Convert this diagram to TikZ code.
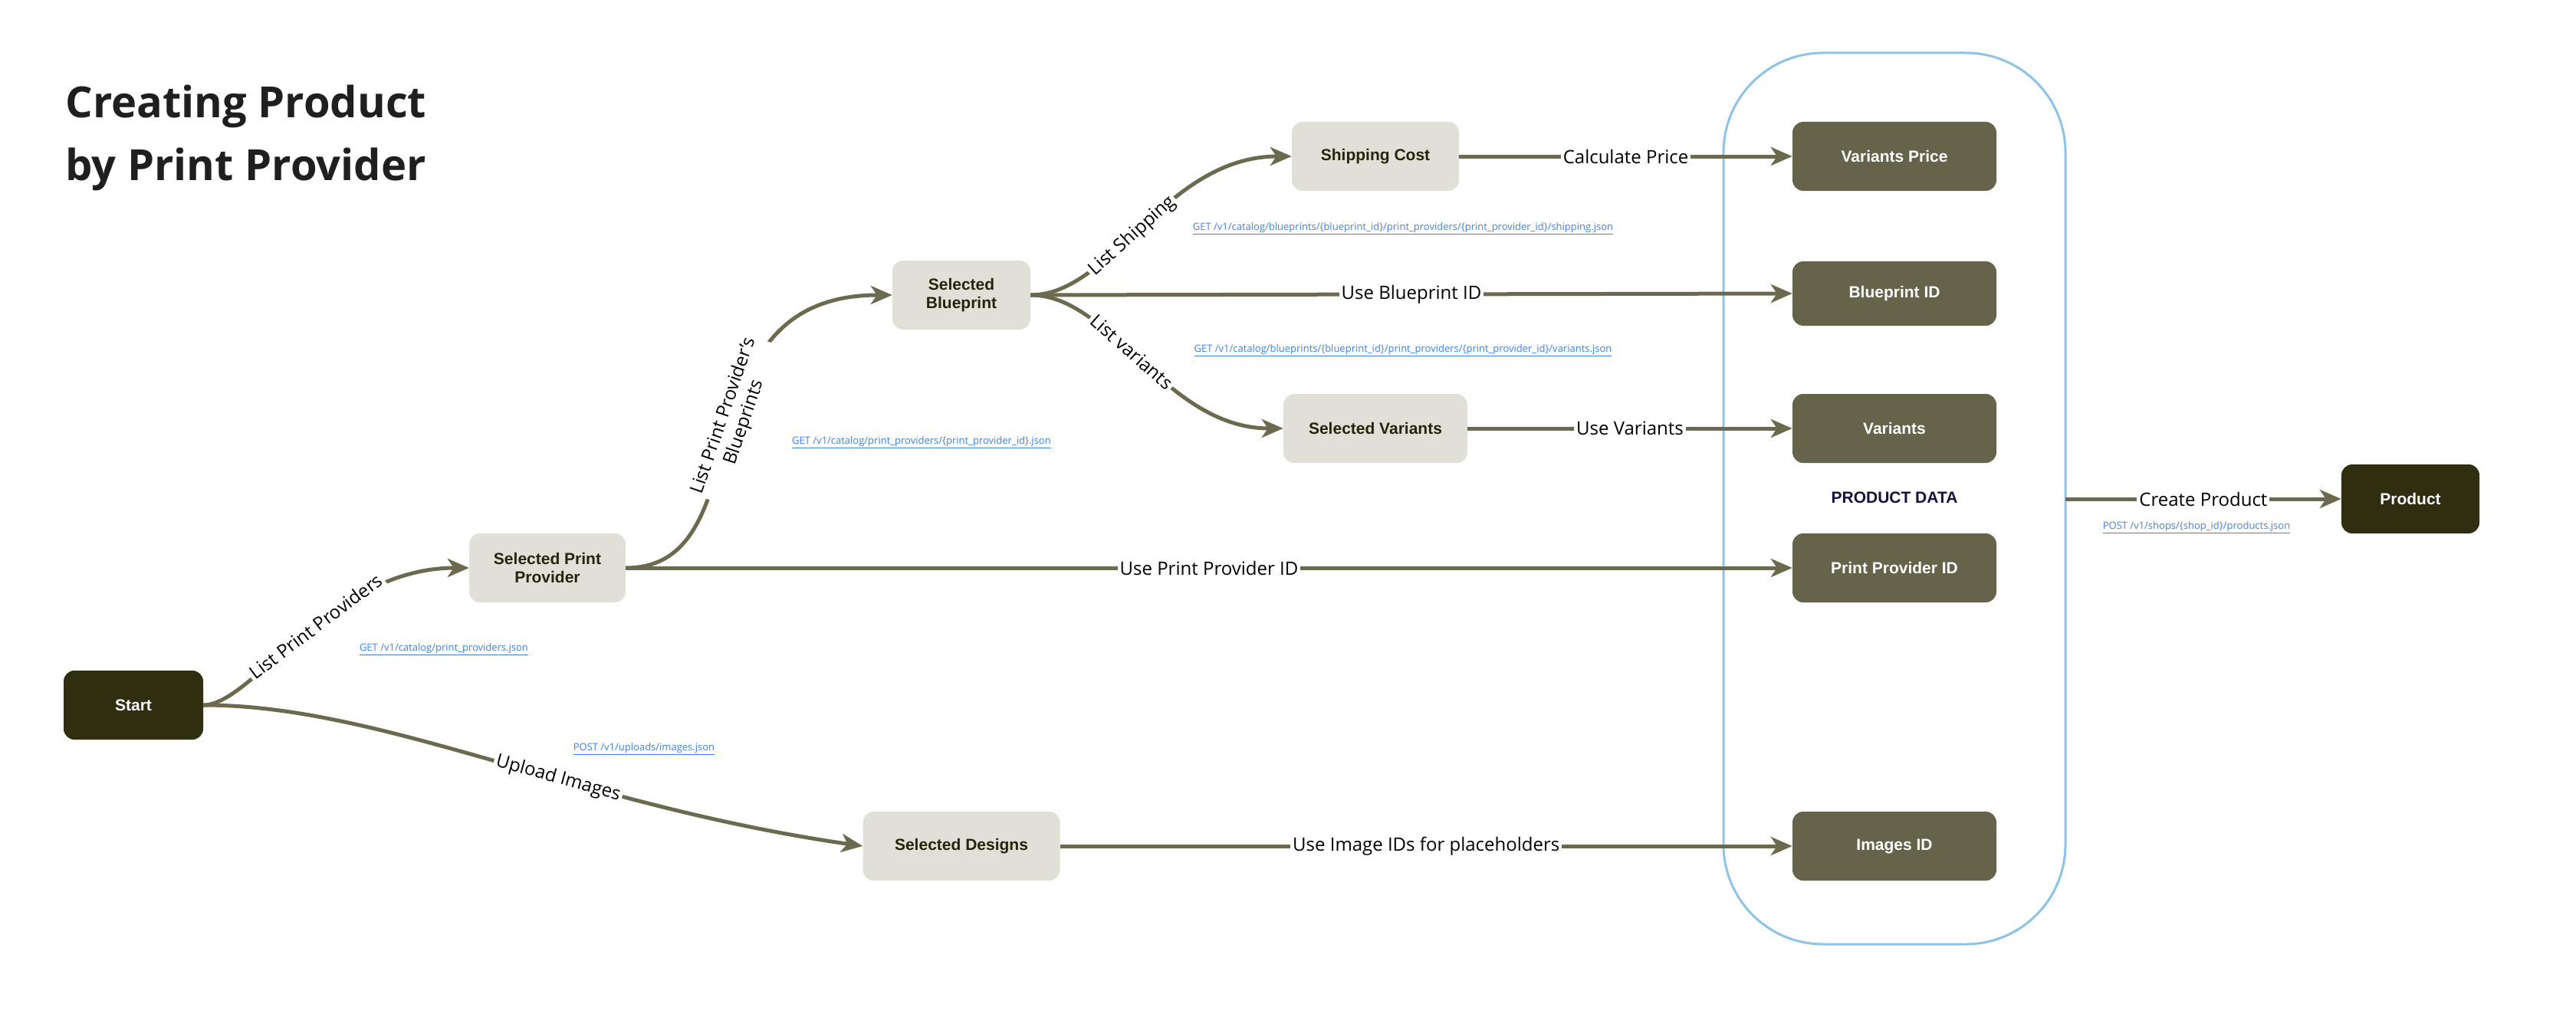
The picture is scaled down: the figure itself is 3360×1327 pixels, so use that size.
\documentclass[tikz,border=0pt]{standalone}
\usepackage{fontspec}
\setmainfont{Open Sans}
\newfontfamily\nodefont{Liberation Sans}
\usetikzlibrary{arrows.meta}
\definecolor{dk}{HTML}{2F2E10}
\definecolor{ol}{HTML}{65634A}
\definecolor{lt}{HTML}{E0E0D8}
\definecolor{ed}{HTML}{6B6A4E}
\definecolor{fr}{HTML}{8EC3E8}
\definecolor{lk}{HTML}{3D7FF0}
\definecolor{pd}{HTML}{14123A}
\begin{document}
\begin{tikzpicture}[x=1pt,y=-1pt,
  box/.style={rounded corners=14pt,minimum height=90pt,align=center,font=\nodefont\fontsize{21}{24}\selectfont\bfseries,inner sep=0pt},
  lbox/.style={box,fill=lt,text=dk!80!black},
  obox/.style={box,fill=ol,text=white,minimum width=266pt},
  dbox/.style={box,fill=dk,text=white},
  arr/.style={draw=ed,line width=5pt,-{Stealth[length=28pt,width=24pt,inset=8pt]}},
  lab/.style={fill=white,inner sep=3pt,font=\fontsize{24}{28}\selectfont,text=black},
  link/.style={font=\fontsize{13}{15}\selectfont,text=lk}]
\useasboundingbox (0,0) rectangle (3360,1327);
\node[anchor=west,align=left,font=\fontsize{56}{82}\selectfont\bfseries,text=black!88] (title) at (82,180) {Creating Product\\by Print Provider};
\node[dbox,minimum width=182pt] (start) at (174,920) {Start};
\node[lbox,minimum width=204pt] (spp) at (714,741) {Selected Print\\Provider};
\node[lbox,minimum width=180pt] (sbp) at (1254,385) {Selected\\Blueprint};
\node[lbox,minimum width=218pt] (ship) at (1794,204) {Shipping Cost};
\node[lbox,minimum width=240pt] (svar) at (1794,559) {Selected Variants};
\node[lbox,minimum width=257pt] (sdes) at (1254,1104) {Selected Designs};
\draw[fr,line width=3pt,rounded corners=130pt] (2248,69) rectangle (2694,1232);
\node[coordinate] (frR) at (2694,651) {};
\node[obox] (vp) at (2471,204) {Variants Price};
\node[obox,minimum height=84pt] (bid) at (2471,383) {Blueprint ID};
\node[obox] (var) at (2471,559) {Variants};
\node[obox] (ppid) at (2471,741) {Print Provider ID};
\node[obox] (img) at (2471,1104) {Images ID};
\node[font=\nodefont\fontsize{21}{24}\selectfont\bfseries,text=pd] (pdata) at (2471,649) {PRODUCT DATA};
\node[dbox,minimum width=180pt] (prod) at (3144,651) {Product};
% edges
\draw[arr] (start.east) .. controls (330,920) and (430,741) .. node[lab,sloped,pos=0.55] {List Print Providers} (spp.west);
\draw[arr] (start.east) .. controls (500,920) and (750,1050) .. node[lab,sloped,pos=0.6] {Upload Images} (sdes.west);
\draw[arr] (spp.east) .. controls (1000,741) and (880,385) .. node[lab,sloped,pos=0.53,align=center,font=\fontsize{24}{28}\selectfont] {List Print Provider's\\Blueprints} (sbp.west);
\draw[arr] (sbp.east) .. controls (1450,385) and (1520,204) .. node[lab,sloped,pos=0.45] {List Shipping} (ship.west);
\draw[arr] (sbp.east) .. controls (1450,385) and (1520,559) .. node[lab,sloped,pos=0.45] {List variants} (svar.west);
\draw[arr] (sbp.east) -- node[lab,pos=0.5] {Use Blueprint ID} (bid.west);
\draw[arr] (ship.east) -- node[lab] {Calculate Price} (vp.west);
\draw[arr] (svar.east) -- node[lab] {Use Variants} (var.west);
\draw[arr] (spp.east) -- node[lab] {Use Print Provider ID} (ppid.west);
\draw[arr] (sdes.east) -- node[lab] {Use Image IDs for placeholders} (img.west);
\draw[arr] (frR) -- node[lab] {Create Product} (prod.west);
% links
\node[link] (l1) at (579,847) {\underline{GET /v1/catalog/print\_providers.json}};
\node[link] (l2) at (1202,577) {\underline{GET /v1/catalog/print\_providers/\{print\_provider\_id\}.json}};
\node[link] (l3) at (1830,298) {\underline{GET /v1/catalog/blueprints/\{blueprint\_id\}/print\_providers/\{print\_provider\_id\}/shipping.json}};
\node[link] (l4) at (1830,457) {\underline{GET /v1/catalog/blueprints/\{blueprint\_id\}/print\_providers/\{print\_provider\_id\}/variants.json}};
\node[link] (l5) at (840,977) {\underline{POST /v1/uploads/images.json}};
\node[link] (l6) at (2865,688) {\underline{POST /v1/shops/\{shop\_id\}/products.json}};
\end{tikzpicture}
\end{document}
